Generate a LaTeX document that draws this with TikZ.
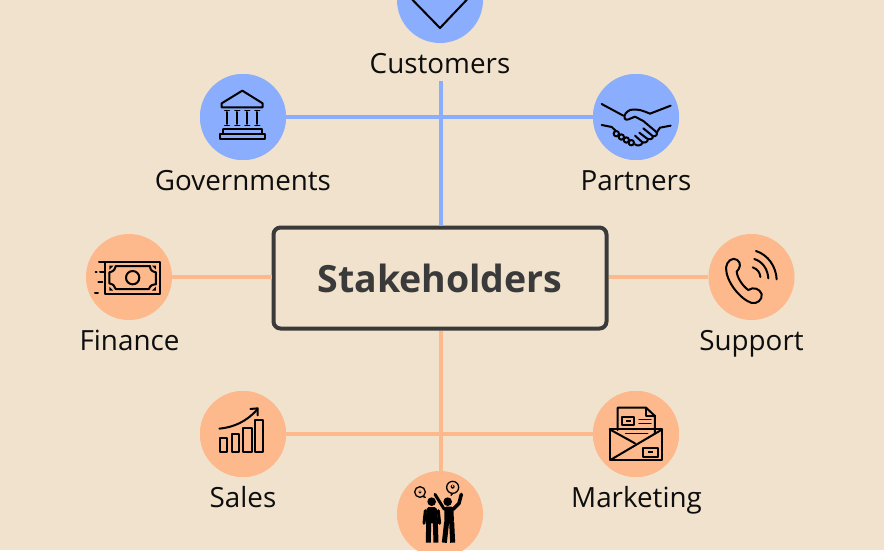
\documentclass[tikz,border=0pt]{standalone}
\usepackage{fontspec}
\setmainfont{Open Sans}
\definecolor{bg}{HTML}{F0E2CC}
\definecolor{blueC}{HTML}{8AADFD}
\definecolor{orangeC}{HTML}{FDB88C}
\definecolor{darkC}{HTML}{3A3A3A}
\tikzset{
  hub/.style={circle,minimum size=86pt,inner sep=0pt,draw=none},
  bluehub/.style={hub,fill=blueC},
  orangehub/.style={hub,fill=orangeC},
  lbl/.style={anchor=base,font=\fontsize{27.8}{30}\selectfont,text=black!95,inner sep=0pt},
  bluelink/.style={draw=blueC,line width=4pt},
  orangelink/.style={draw=orangeC,line width=4pt},
  ico/.style={draw=black,line width=2pt,line join=round,line cap=round},
  icothin/.style={draw=black,line width=1.3pt,line join=round,line cap=round},
}
\begin{document}
\begin{tikzpicture}[x=1pt,y=-1pt]
\useasboundingbox (0,0) rectangle (884,550);
\clip (0,0) rectangle (884,550);
\fill[bg] (0,0) rectangle (884,550);

% nodes
\node[bluehub] (cust) at (440,0) {};
\node[bluehub] (gov) at (243,117) {};
\node[bluehub] (part) at (636,117) {};
\node[orangehub] (fin) at (129,277) {};
\node[orangehub] (sup) at (751.5,277) {};
\node[orangehub] (sal) at (243,434) {};
\node[orangehub] (mkt) at (636,434) {};
\node[orangehub] (bot) at (440,514) {};

\node[draw=darkC,line width=4pt,rounded corners=7pt,minimum width=333pt,minimum height=101pt,inner sep=0pt,
      text=darkC,font=\fontsize{37.5}{42}\bfseries\selectfont] (box) at (440,278) {Stakeholders};

\node[lbl] (lcust) at (440,73.5) {Customers};
\node[lbl] (lgov) at (243,190) {Governments};
\node[lbl] (lpart) at (636,190) {Partners};
\node[lbl] (lfin) at (129.5,350) {Finance};
\node[lbl] (lsup) at (751.5,350) {Support};
\node[lbl] (lsal) at (243,507) {Sales};
\node[lbl] (lmkt) at (636.5,507) {Marketing};

\coordinate (custend) at (440.5,81);

% connectors
\draw[bluelink] (custend) -- (custend |- box.north);
\draw[bluelink] (gov) -- (part);
\draw[orangelink] (fin.east) -- (box.west |- fin.east);
\draw[orangelink] (sup.west) -- (box.east |- sup.west);
\draw[orangelink] (box.south -| custend) -- (bot.north -| custend);
\draw[orangelink] (sal) -- (mkt);
% redraw hubs over the line ends
\fill[blueC] (gov) circle (43pt) (part) circle (43pt);
\fill[orangeC] (sal) circle (43pt) (mkt) circle (43pt);

% heart (customers)
\draw[ico] (411.7,-1) -- (440,28) -- (467.5,-1);

% government building
\begin{scope}[shift={(180,0)},scale=0.3333]
  \draw[ico] (125,310) -- (187,272) -- (248,310) -- (248,322) -- (125,322) -- cycle;
  \foreach \c in {141,172,202,232}{
    \draw[ico] (\c,336) -- (\c,372);
    \draw[ico,line width=1.5pt] (\c-7,331) -- (\c+7,331) (\c-7,376) -- (\c+7,376);
  }
  \draw[ico] (130,388) -- (245,388) -- (245,401);
  \draw[ico] (130,388) -- (130,401);
  \draw[ico] (119,401) rectangle (255,418);
\end{scope}

% handshake
\begin{scope}[shift={(580,65)},scale=0.3333]
  \draw[ico] (65,117) -- (130,152);
  \draw[ico] (272,122) -- (210,146) .. controls (190,138) and (175,130) .. (150,135)
     .. controls (140,140) and (130,150) .. (134,160) .. controls (138,170) and (150,160) .. (165,155)
     -- (190,168) -- (228,200) .. controls (235,208) and (228,216) .. (218,213) -- (190,190);
  \draw[ico] (65,180) -- (95,186) -- (108,198);
  \draw[ico] (272,182) -- (240,188) -- (230,203);
  \draw[ico] (218,213) .. controls (222,222) and (208,226) .. (200,220) -- (178,203);
  \draw[ico] (204,222) .. controls (204,232) and (192,236) .. (185,230) -- (165,212);
  \draw[ico] (188,232) .. controls (185,242) and (172,244) .. (165,238);
  \draw[ico] (109,206) circle (8);
  \draw[ico] (124,216) circle (8);
  \draw[ico] (139,225) circle (8);
  \draw[ico] (154,233) circle (8);
\end{scope}

% banknote
\begin{scope}[shift={(75,225)},scale=0.3333]
  \draw[ico] (72,112) -- (255,112) -- (255,207) -- (90,207) -- (90,112);
  \draw[ico] (122,123) -- (225,123) .. controls (225,135) and (232,140) .. (243,142) -- (243,178)
     .. controls (232,178) and (225,182) .. (222,192) -- (122,192)
     .. controls (120,182) and (114,178) .. (103,175) -- (103,142)
     .. controls (114,140) and (120,135) .. (122,123) -- cycle;
  \draw[ico] (173,158) circle (20);
  \draw[ico] (62,142) -- (65,142) (75,142) -- (88,142) (70,172) -- (82,172) (60,205) -- (69,205);
  \fill (103,122) -- (115,122) -- (103,134) -- cycle;
  \fill (243,122) -- (231,122) -- (243,134) -- cycle;
  \fill (103,197) -- (115,197) -- (103,185) -- cycle;
  \fill (243,197) -- (231,197) -- (243,185) -- cycle;
\end{scope}

% telephone
\begin{scope}[shift={(700,225)},scale=0.3333]
  \draw[ico] (78,128) .. controls (80,108) and (98,95) .. (112,105)
     .. controls (125,115) and (120,130) .. (110,140)
     .. controls (112,160) and (130,185) .. (145,195)
     .. controls (160,185) and (178,190) .. (185,207)
     .. controls (188,225) and (170,238) .. (155,234)
     .. controls (120,222) and (78,170) .. (78,128) -- cycle;
  \draw[ico] (158,127) .. controls (172,132) and (180,142) .. (181,156);
  \draw[ico] (163,102) .. controls (188,110) and (203,132) .. (205,160);
  \draw[ico] (168,78) .. controls (205,90) and (228,125) .. (230,163);
\end{scope}

% sales chart
\begin{scope}[shift={(190,380)},scale=0.3333]
  \draw[ico] (90,174) rectangle (112,215);
  \draw[ico] (125,162) rectangle (148,215);
  \draw[ico] (160,145) rectangle (185,215);
  \draw[ico] (195,120) rectangle (220,215);
  \draw[ico] (88,146) .. controls (130,142) and (170,125) .. (202,88);
  \draw[ico] (181,87) -- (203,85) -- (203,106);
\end{scope}

% envelope
\begin{scope}[shift={(585,380)},scale=0.3333]
  \draw[ico] (98,150) -- (98,83) -- (183,83) -- (210,108) -- (210,160);
  \draw[ico] (183,83) -- (183,108) -- (210,108);
  \draw[ico] (112,110) rectangle (148,135);
  \fill (122,119) rectangle (138,126);
  \draw[icothin,line width=1.5pt] (162,118) -- (198,118) (162,130) -- (198,130) (110,147) -- (198,147) (122,160) -- (188,160);
  \draw[ico] (74,148) rectangle (232,240);
  \draw[ico] (74,148) -- (150,190);
  \draw[ico] (232,148) -- (76,240);
  \draw[ico] (175,205) rectangle (218,230);
  \fill (190,213) rectangle (205,220);
\end{scope}

% people
\begin{scope}[shift={(385,460)},scale=0.3333]
  \fill (140,125) circle (13);
  \fill (188,125) circle (13);
  % left person
  \fill[rounded corners=2pt] (125,141) -- (155,141) -- (160,190) -- (122,190) -- cycle;
  \draw[ico,line width=3pt] (121,152) -- (117,190);
  \draw[ico,line width=3pt] (160,152) -- (164,190);
  \draw[ico,line width=5pt,line cap=butt] (131,185) -- (130,248);
  \draw[ico,line width=5pt,line cap=butt] (151,185) -- (153,248);
  % right person
  \fill[rounded corners=2pt] (178,140) -- (205,140) -- (207,187) -- (178,187) -- cycle;
  \draw[ico,line width=3pt] (178,148) -- (150,103);
  \draw[ico,line width=3.5pt] (204,148) -- (222,130) -- (229,103);
  \draw[ico,line width=5pt,line cap=butt] (185,185) -- (178,248);
  \draw[ico,line width=5pt,line cap=butt] (200,185) -- (203,248);
  \draw[icothin] (105,96) circle (16) (121,112) -- (114,110);
  \draw[icothin] (203,82) circle (18) (203,100) -- (198,106);
  \fill (105,96) circle (5);
  \fill (203,80) circle (6);
  \fill[orangeC] (105,94) circle (2.5) (203,78) circle (3);
\end{scope}
\end{tikzpicture}
\end{document}
